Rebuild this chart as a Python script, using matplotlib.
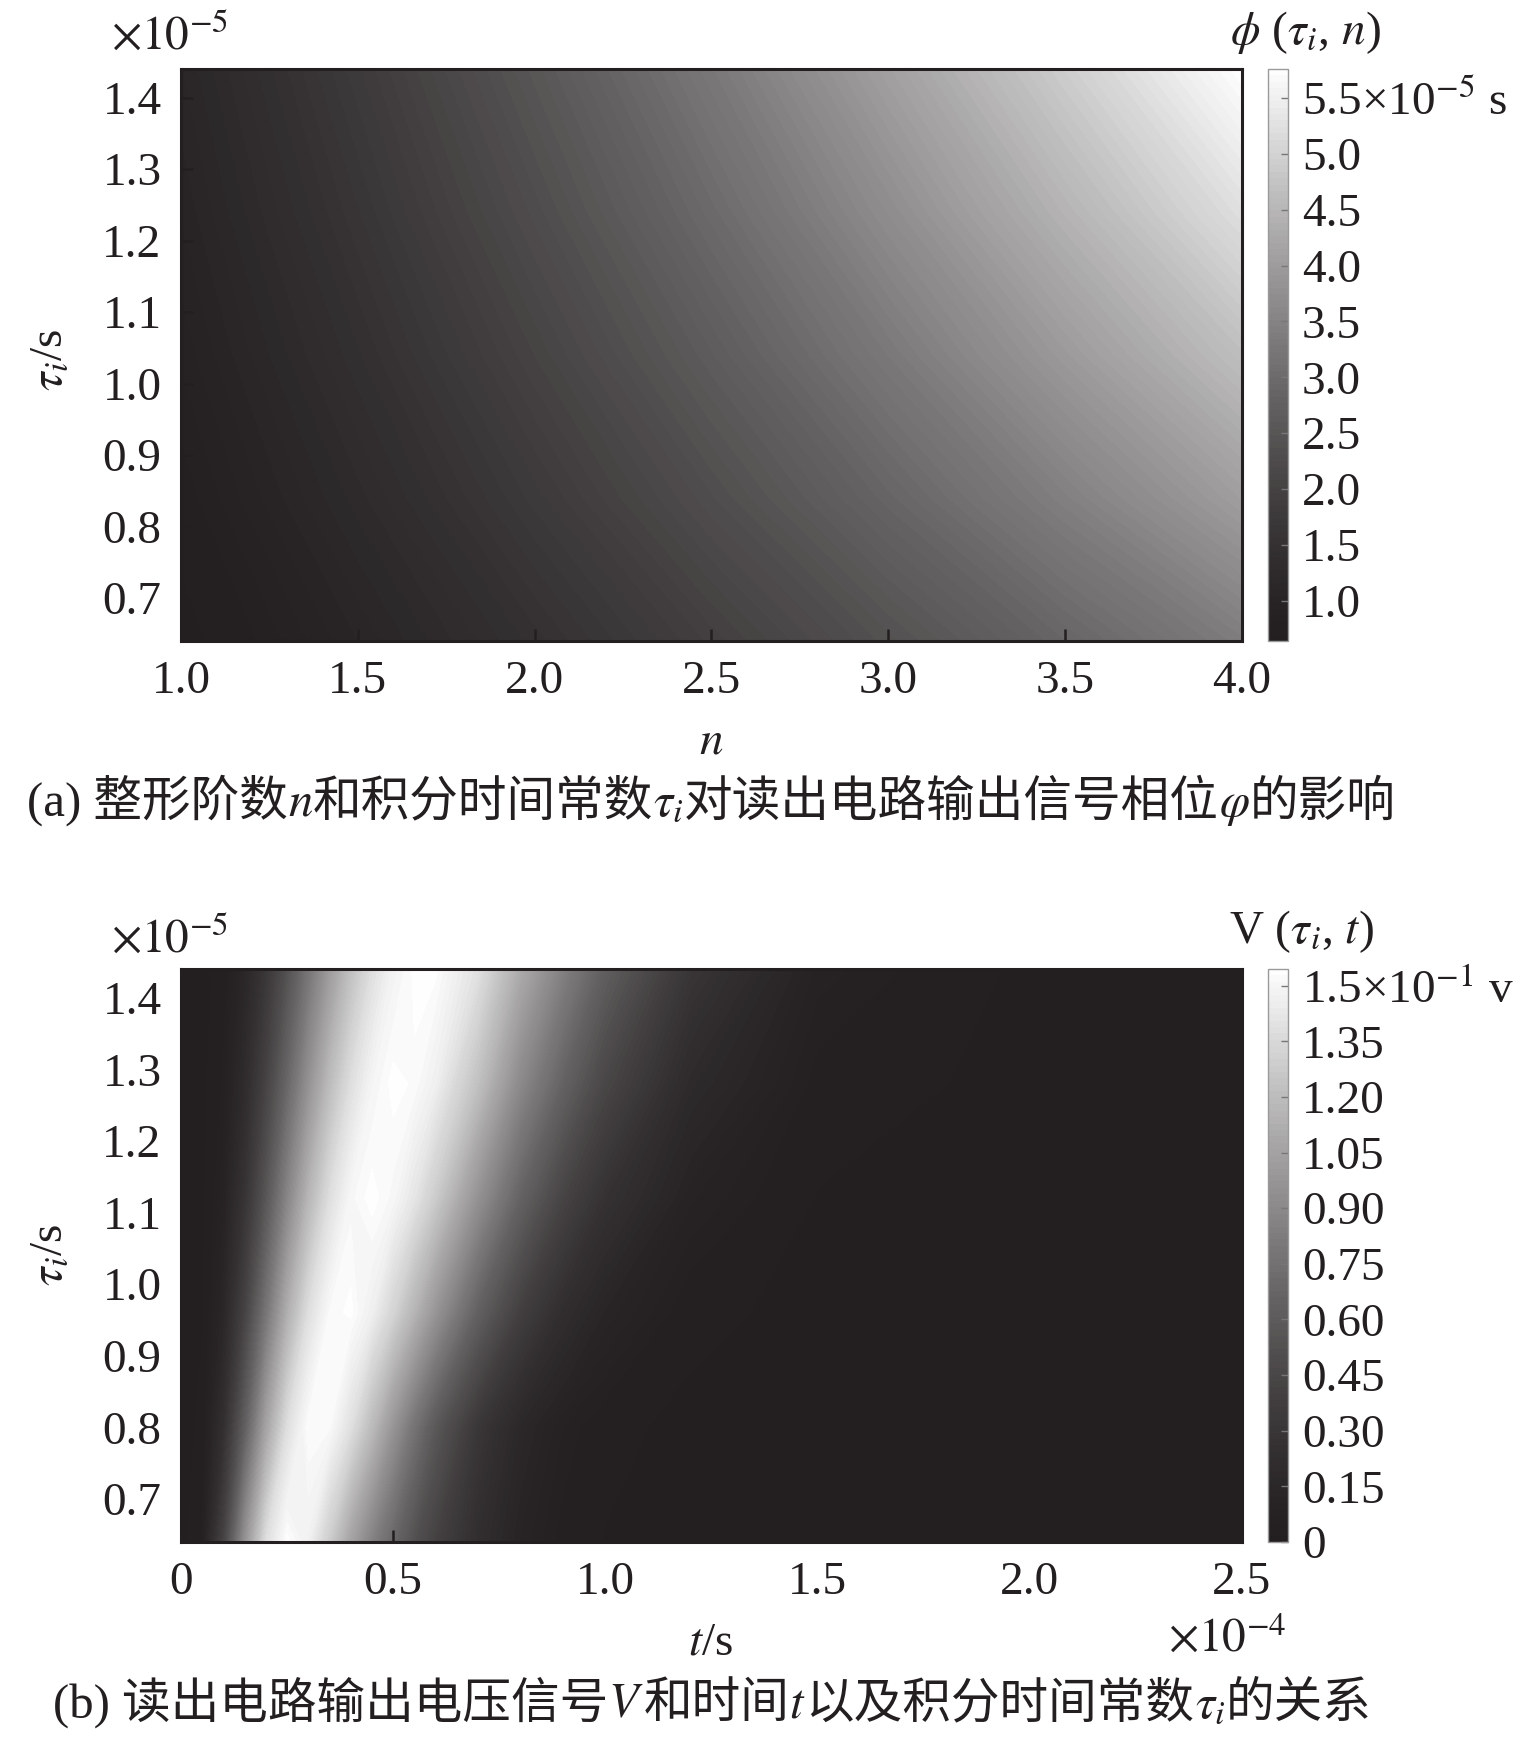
import numpy as np
import matplotlib.pyplot as plt
from matplotlib.colors import LinearSegmentedColormap
from matplotlib.offsetbox import TextArea, HPacker, AnnotationBbox

plt.rcParams['font.family'] = ['Liberation Serif', 'Noto Sans CJK SC']
plt.rcParams['mathtext.fontset'] = 'stix'

INK = '#231f20'
FS = 34
CJK = ['Liberation Serif', 'Noto Sans CJK SC']

# (a) phase phi(tau_i, n), units 1e-5 s
N_ORDER = [1.0, 1.5, 2.0, 2.5, 3.0, 3.5, 4.0]
TAU_A = [0.64, 0.84, 1.04, 1.24, 1.44]  # x1e-5 s
PHI = [
    [0.640, 1.041, 1.470, 1.922, 2.392, 2.878, 3.378],
    [0.765, 1.245, 1.757, 2.297, 2.859, 3.440, 4.038],
    [0.880, 1.432, 2.021, 2.643, 3.289, 3.957, 4.645],
    [0.989, 1.609, 2.272, 2.970, 3.696, 4.448, 5.220],
    [1.091, 1.775, 2.506, 3.276, 4.077, 4.906, 5.760],
]

# (b) output voltage V(tau_i, t), units 1e-1 v
T_B = [0, 0.05, 0.10, 0.15, 0.20, 0.25, 0.30, 0.35, 0.40, 0.45, 0.50,
       0.55, 0.60, 0.70, 0.80, 0.90, 1.00, 1.20, 1.50, 2.00, 2.50]  # x1e-4 s
TAU_B = [0.64, 0.80, 0.96, 1.12, 1.28, 1.44]  # x1e-5 s
V_B = [
    [0, 0.056, 0.411, 0.951, 1.376, 1.538, 1.470, 1.280, 1.050, 0.850, 0.680,
     0.520, 0.400, 0.220, 0.100, 0.040, 0.015, 0.002, 0, 0, 0],
    [0, 0.027, 0.229, 0.622, 1.053, 1.376, 1.528, 1.515, 1.383, 1.186, 0.967,
     0.758, 0.574, 0.305, 0.149, 0.068, 0.030, 0.005, 0.000, 0, 0],
    [0, 0.014, 0.136, 0.411, 0.771, 1.117, 1.376, 1.514, 1.535, 1.460, 1.321,
     1.150, 0.967, 0.633, 0.380, 0.215, 0.116, 0.030, 0.003, 0.000, 0],
    [0, 0.008, 0.085, 0.277, 0.560, 0.875, 1.160, 1.376, 1.503, 1.540, 1.502,
     1.408, 1.275, 0.950, 0.650, 0.420, 0.260, 0.090, 0.015, 0.001, 0],
    [0, 0.005, 0.056, 0.192, 0.411, 0.678, 0.951, 1.193, 1.376, 1.491, 1.538,
     1.523, 1.460, 1.220, 0.900, 0.650, 0.440, 0.180, 0.040, 0.003, 0.000],
    [0, 0.003, 0.038, 0.136, 0.305, 0.525, 0.771, 1.008, 1.216, 1.376, 1.483,
     1.534, 1.535, 1.390, 1.100, 0.850, 0.620, 0.300, 0.080, 0.008, 0.001],
]

Y_TICKS = [0.7, 0.8, 0.9, 1.0, 1.1, 1.2, 1.3, 1.4]
N_TICKS = [1.0, 1.5, 2.0, 2.5, 3.0, 3.5, 4.0]
T_TICKS = [0, 0.5, 1.0, 1.5, 2.0, 2.5]
T_TICKLABELS = ['0', '0.5', '1.0', '1.5', '2.0', '2.5']
PHI_TICKS = [1.0, 1.5, 2.0, 2.5, 3.0, 3.5, 4.0, 4.5, 5.0, 5.5]
PHI_TICKLABELS = ['1.0', '1.5', '2.0', '2.5', '3.0', '3.5', '4.0', '4.5', '5.0',
                  '5.5×10$^{-5}$ s']
V_TICKS = [0, 0.15, 0.30, 0.45, 0.60, 0.75, 0.90, 1.05, 1.20, 1.35, 1.50]
V_TICKLABELS = ['0', '0.15', '0.30', '0.45', '0.60', '0.75', '0.90', '1.05',
                '1.20', '1.35', '1.5×10$^{-1}$ v']

# printed gray ramp: dark ink to white, darker in the lower half
cmap = LinearSegmentedColormap.from_list('ink_gray', [INK, 'white'], gamma=1.4)

W, H = 1535, 1744
fig = plt.figure(figsize=(W / 100, H / 100), dpi=100)


def px_axes(x0, y0, x1, y1):
    return fig.add_axes([x0 / W, 1 - y1 / H, (x1 - x0) / W, (y1 - y0) / H])


def style_axes(ax):
    for sp in ax.spines.values():
        sp.set_linewidth(2.2)
        sp.set_color(INK)
    ax.tick_params(direction='in', length=8.5, width=1.8, color=INK,
                   labelsize=FS, labelcolor=INK, pad=14, top=False, right=False)
    ax.set_yticks(Y_TICKS)
    ax.set_yticklabels([f'{v:.1f}' for v in Y_TICKS])


def style_cbar(cb, ticks, labels):
    cb.set_ticks(ticks)
    cb.set_ticklabels(labels)
    cb.outline.set_linewidth(1.0)
    cb.outline.set_edgecolor('#9a9a9a')
    cb.ax.tick_params(direction='in', length=5, width=1, color='#777777',
                      labelsize=FS, labelcolor=INK, pad=10)


def caption(parts, x, y, fs=35):
    boxes = []
    for s, math in parts:
        if math:
            boxes.append(TextArea(s, textprops=dict(fontsize=fs, color=INK)))
        else:
            boxes.append(TextArea(s, textprops=dict(fontsize=fs, color=INK, family=CJK)))
    pack = HPacker(children=boxes, align='baseline', pad=0, sep=0)
    ab = AnnotationBbox(pack, (x, y), xycoords='figure fraction', frameon=False,
                        box_alignment=(0.5, 0.5), annotation_clip=False)
    fig.add_artist(ab)


# ---- (a) ----
ax1 = px_axes(181, 69, 1242, 641)
cs1 = ax1.contourf(N_ORDER, TAU_A, PHI, levels=np.linspace(0.64, 5.76, 90), cmap=cmap)
ax1.set_xlim(1.0, 4.0)
ax1.set_ylim(0.64, 1.44)
style_axes(ax1)
ax1.set_xticks(N_TICKS)
ax1.set_xticklabels([f'{v:.1f}' for v in N_TICKS])
cax1 = px_axes(1268, 69, 1288, 641)
cb1 = fig.colorbar(cs1, cax=cax1)
style_cbar(cb1, PHI_TICKS, PHI_TICKLABELS)

fig.text(111 / W, 1 - 50 / H, r'$\times10^{-5}$', fontsize=FS, color=INK, ha='left', va='baseline')
fig.text(1305 / W, 1 - 44 / H, r'$\phi$ ($\tau_i$, $n$)', fontsize=FS, color=INK, ha='center', va='baseline')
fig.text(50 / W, 1 - 360 / H, r'$\tau_i$/s', fontsize=FS, color=INK, ha='center', va='center', rotation=90)
fig.text(711 / W, 1 - 753 / H, r'$n$', fontsize=FS, color=INK, ha='center', va='baseline')
caption([('(a) 整形阶数', False), (r'$n$', True), ('和积分时间常数', False),
         (r'$\tau_i$', True), ('对读出电路输出信号相位', False), (r'$\varphi$', True),
         ('的影响', False)], 711 / W, 1 - 801 / H)

# ---- (b) ----
ax2 = px_axes(181, 969, 1242, 1542)
cs2 = ax2.contourf(T_B, TAU_B, V_B, levels=np.linspace(0, 1.545, 90), cmap=cmap)
ax2.set_xlim(0, 2.5)
ax2.set_ylim(0.64, 1.44)
style_axes(ax2)
ax2.set_xticks(T_TICKS)
ax2.set_xticklabels(T_TICKLABELS)
cax2 = px_axes(1268, 969, 1288, 1542)
cb2 = fig.colorbar(cs2, cax=cax2)
style_cbar(cb2, V_TICKS, V_TICKLABELS)

fig.text(111 / W, 1 - 953 / H, r'$\times10^{-5}$', fontsize=FS, color=INK, ha='left', va='baseline')
fig.text(1301 / W, 1 - 943 / H, r'V ($\tau_i$, $t$)', fontsize=FS, color=INK, ha='center', va='baseline')
fig.text(50 / W, 1 - 1255 / H, r'$\tau_i$/s', fontsize=FS, color=INK, ha='center', va='center', rotation=90)
fig.text(710 / W, 1 - 1654 / H, r'$t$/s', fontsize=FS, color=INK, ha='center', va='baseline')
fig.text(1168 / W, 1 - 1652 / H, r'$\times10^{-4}$', fontsize=FS, color=INK, ha='left', va='baseline')
caption([('(b) 读出电路输出电压信号', False), (r'$V$', True), ('和时间', False),
         (r'$t$', True), ('以及积分时间常数', False), (r'$\tau_i$', True),
         ('的关系', False)], 712 / W, 1 - 1702 / H)

fig.savefig('out.png', dpi=100, facecolor='white')
